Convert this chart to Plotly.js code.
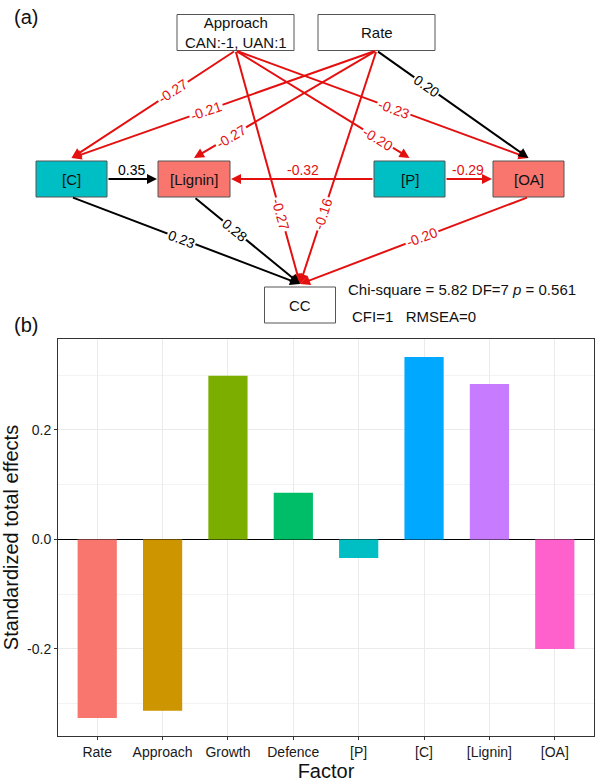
<!DOCTYPE html>
<html>
<head>
<meta charset="utf-8">
<script src="https://cdn.plot.ly/plotly-3.0.1.min.js"></script>
<style>html,body{margin:0;padding:0;background:#fff;}#chart{width:600px;height:784px;}</style>
</head>
<body>
<div id="chart"></div>
<script>
// ---------- Data: bar chart (b) ----------
const factors = ['Rate','Approach','Growth','Defence','[P]','[C]','[Lignin]','[OA]'];
const totalEffects = [-0.326, -0.313, 0.299, 0.085, -0.034, 0.333, 0.284, -0.200];
const barColors = ['#F8766D','#CD9600','#7CAE00','#00BE67','#00BFC4','#00A9FF','#C77CFF','#FF61CC'];
const yTickVals = [-0.2, 0.0, 0.2];
const yTickText = ['-0.2','0.0','0.2'];

// ---------- Data: path diagram (a) ----------
const nodeNames  = ['Approach','Rate','[C]','[Lignin]','[P]','[OA]','CC'];
const nodeLabels = ['Approach<br>CAN:-1, UAN:1','Rate','[C]','[Lignin]','[P]','[OA]','CC'];
const edgeFrom = ['Approach','Rate','Rate','Approach','Approach','Rate','Approach','Rate','[C]','[P]','[P]','[C]','[Lignin]','[OA]'];
const edgeTo   = ['[C]','[C]','[Lignin]','[P]','[OA]','[OA]','CC','CC','[Lignin]','[Lignin]','[OA]','CC','CC','CC'];
const edgeCoef = [-0.27,-0.21,-0.27,-0.20,-0.23,0.20,-0.27,-0.16,0.35,-0.32,-0.29,0.23,0.28,-0.20];
const fitText1 = 'Chi-square = 5.82 DF=7 <i>p</i> = 0.561';
const fitText2 = 'CFI=1   RMSEA=0';

// ---------- Layout of the diagram (pixel-like units on hidden axes) ----------
const nodePos = {
  'Approach': {x:235.5, y:32.5, w:117, h:36, fill:'#FFFFFF'},
  'Rate':     {x:376.5, y:32.5, w:117, h:36, fill:'#FFFFFF'},
  '[C]':      {x:71.5,  y:179,  w:71,  h:36, fill:'#00BFC4'},
  '[Lignin]': {x:194,   y:179,  w:72,  h:36, fill:'#F8766D'},
  '[P]':      {x:409.5, y:179,  w:71,  h:36, fill:'#00BFC4'},
  '[OA]':     {x:528.5, y:179,  w:71,  h:36, fill:'#F8766D'},
  'CC':       {x:300,   y:305,  w:71,  h:36, fill:'#FFFFFF'}
};
const labelFrac = [0.38,0.56,0.80,0.82,0.54,0.33,0.70,0.70,0.48,0.50,0.48,0.48,0.38,0.465];

const FONT = 'Liberation Sans, Arial, sans-serif';
const RED = '#E41010';

const shapes = [];
const annotations = [];

// node boxes
nodeNames.forEach((n, i) => {
  const p = nodePos[n];
  shapes.push({type:'rect', xref:'x2', yref:'y2', x0:p.x-p.w/2, x1:p.x+p.w/2, y0:p.y-p.h/2, y1:p.y+p.h/2,
    fillcolor:p.fill, line:{color:'#555555', width:1}, layer:'above'});
  annotations.push({xref:'x2', yref:'y2', x:p.x, y:p.y, text:nodeLabels[i], showarrow:false,
    font:{family:FONT, size:15, color:'#111'}});
});

// edges: arrows
const edgeGeom = edgeFrom.map((f, i) => {
  const a = nodePos[f], b = nodePos[edgeTo[i]];
  let tx, ty, hx, hy;
  if (Math.abs(a.y - b.y) < 1) {
    const dir = b.x > a.x ? 1 : -1;
    tx = a.x + dir*a.w/2; ty = a.y;
    hx = b.x - dir*b.w/2 - dir*1; hy = b.y;
  } else {
    tx = a.x; ty = a.y + a.h/2;
    hx = b.x; hy = b.y - b.h/2 - 3;
  }
  return {tx, ty, hx, hy};
});
edgeGeom.forEach((g, i) => {
  const col = edgeCoef[i] < 0 ? RED : '#000000';
  annotations.push({xref:'x2', yref:'y2', axref:'x2', ayref:'y2', x:g.hx, y:g.hy, ax:g.tx, ay:g.ty,
    text:'', showarrow:true, arrowhead:2, arrowsize:1, arrowwidth:2, arrowcolor:col, standoff:0, startstandoff:0});
});
// edge labels
edgeGeom.forEach((g, i) => {
  const col = edgeCoef[i] < 0 ? RED : '#000000';
  const t = labelFrac[i];
  const lx = g.tx + (g.hx - g.tx)*t, ly = g.ty + (g.hy - g.ty)*t;
  let ang = Math.atan2(g.hy - g.ty, g.hx - g.tx) * 180 / Math.PI;
  if (ang > 90) ang -= 180;
  if (ang < -90) ang += 180;
  const horiz = Math.abs(g.hy - g.ty) < 1;
  annotations.push({xref:'x2', yref:'y2', x:lx, y:ly, text:edgeCoef[i].toFixed(2), showarrow:false,
    textangle: horiz ? 0 : ang, yshift: horiz ? 9 : 0,
    bgcolor: horiz ? 'rgba(0,0,0,0)' : '#FFFFFF', borderpad:1,
    font:{family:FONT, size:14, color:col}});
});

// panel letters & fit text
annotations.push({xref:'paper', yref:'paper', x:12/600, y:1-17/784, xanchor:'left', yanchor:'middle', text:'(a)', showarrow:false, font:{family:FONT, size:20, color:'#111'}});
annotations.push({xref:'paper', yref:'paper', x:12/600, y:1-325/784, xanchor:'left', yanchor:'middle', text:'(b)', showarrow:false, font:{family:FONT, size:20, color:'#111'}});
annotations.push({xref:'paper', yref:'paper', x:346/600, y:1-289/784, xanchor:'left', yanchor:'middle', text:fitText1, showarrow:false, font:{family:FONT, size:15, color:'#111'}});
annotations.push({xref:'paper', yref:'paper', x:350/600, y:1-316/784, xanchor:'left', yanchor:'middle', text:fitText2, showarrow:false, font:{family:FONT, size:15, color:'#111'}});

const traces = [
  {type:'bar', x:factors, y:totalEffects, marker:{color:barColors, line:{width:0}}, width:0.6,
   xaxis:'x', yaxis:'y', hoverinfo:'x+y', showlegend:false},
  {type:'scatter', x:[0], y:[0], mode:'markers', marker:{opacity:0}, xaxis:'x2', yaxis:'y2', hoverinfo:'skip', showlegend:false}
];

const layout = {
  width:600, height:784,
  margin:{l:0, r:0, t:0, b:0},
  paper_bgcolor:'#FFFFFF', plot_bgcolor:'rgba(0,0,0,0)',
  font:{family:FONT},
  showlegend:false,
  xaxis:{domain:[58/600, 594/600], anchor:'y', type:'category', range:[-0.6, 7.6],
    showgrid:true, gridcolor:'#EBEBEB', gridwidth:1,
    showline:true, mirror:true, linecolor:'#333333', linewidth:1,
    ticks:'outside', ticklen:3, tickcolor:'#333333',
    tickfont:{family:FONT, size:14, color:'#1a1a1a'},
    title:{text:'Factor', font:{family:FONT, size:20, color:'#111'}, standoff:3}},
  yaxis:{domain:[48/784, (784-339)/784], anchor:'x', range:[-0.359, 0.366],
    tickvals:yTickVals, ticktext:yTickText,
    showgrid:true, gridcolor:'#EBEBEB', gridwidth:1,
    minor:{tickvals:[-0.3,-0.1,0.1,0.3], showgrid:true, gridcolor:'#F3F3F3', gridwidth:1, ticks:''},
    zeroline:true, zerolinecolor:'#000000', zerolinewidth:1.5,
    showline:true, mirror:true, linecolor:'#333333', linewidth:1,
    ticks:'outside', ticklen:3, tickcolor:'#333333',
    tickfont:{family:FONT, size:14, color:'#1a1a1a'},
    title:{text:'Standardized total effects', font:{family:FONT, size:20, color:'#111'}, standoff:3}},
  xaxis2:{domain:[0,1], anchor:'y2', range:[0,600], visible:false, fixedrange:true},
  yaxis2:{domain:[0,1], anchor:'x2', range:[784,0], visible:false, fixedrange:true},
  shapes:shapes,
  annotations:annotations
};

Plotly.newPlot('chart', traces, layout, {displayModeBar:false, staticPlot:true});
</script>
</body>
</html>
